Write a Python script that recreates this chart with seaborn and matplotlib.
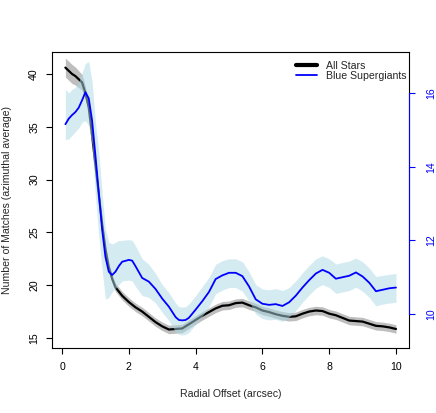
import matplotlib
matplotlib.use('Agg')  # Non-interactive backend
import matplotlib.pyplot as plt
import seaborn as sns
import numpy as np
from matplotlib.lines import Line2D

# All stars (left axis): mean and half-width of the grey band
all_x = [0.1, 0.2, 0.3, 0.4, 0.5, 0.6, 0.7, 0.8, 0.9, 1.0, 1.1, 1.2, 1.3, 1.4, 1.5,
         1.6, 1.8, 2.0, 2.2, 2.4, 2.6, 2.8, 3.0, 3.2, 3.4, 3.6, 3.8, 4.0, 4.2, 4.4,
         4.6, 4.8, 5.0, 5.2, 5.4, 5.6, 5.8, 6.0, 6.2, 6.4, 6.6, 6.8, 7.0, 7.2, 7.4,
         7.6, 7.8, 8.0, 8.2, 8.4, 8.6, 8.8, 9.0, 9.2, 9.4, 9.6, 9.8, 10.0]
all_mean = [40.6, 40.3, 40.0, 39.8, 39.5, 39.2, 38.2, 36.8, 34.2, 31.4, 28.6, 25.8, 23.4, 21.7, 20.6,
            19.8, 19.0, 18.4, 17.9, 17.5, 17.0, 16.5, 16.1, 15.8, 15.85, 15.9, 16.3, 16.7, 17.1, 17.45,
            17.8, 18.05, 18.1, 18.3, 18.35, 18.1, 17.9, 17.6, 17.45, 17.25, 17.1, 17.0, 17.05, 17.3, 17.5,
            17.6, 17.55, 17.3, 17.15, 16.9, 16.65, 16.6, 16.55, 16.35, 16.15, 16.1, 16.0, 15.85]
all_err = [0.9, 0.9, 0.9, 0.85, 0.8, 0.75, 0.6, 0.5, 0.45, 0.45, 0.45, 0.45, 0.45, 0.4, 0.4,
           0.4, 0.4, 0.4, 0.4, 0.4, 0.4, 0.4, 0.4, 0.4, 0.4, 0.4, 0.4, 0.4, 0.4, 0.4,
           0.4, 0.4, 0.4, 0.4, 0.4, 0.4, 0.4, 0.4, 0.4, 0.4, 0.4, 0.4, 0.4, 0.4, 0.4,
           0.4, 0.4, 0.4, 0.4, 0.4, 0.4, 0.4, 0.4, 0.4, 0.4, 0.4, 0.4, 0.4]

# Blue supergiants (right axis): mean and band limits
bsg_x = [0.1, 0.2, 0.3, 0.4, 0.5, 0.6, 0.7, 0.8, 0.9, 1.0, 1.1, 1.2, 1.3, 1.4, 1.5,
         1.6, 1.7, 1.8, 2.0, 2.1, 2.2, 2.4, 2.6, 2.8, 3.0, 3.2, 3.4, 3.5, 3.6, 3.7,
         3.8, 4.0, 4.2, 4.4, 4.6, 4.8, 5.0, 5.2, 5.4, 5.6, 5.8, 6.0, 6.2, 6.4, 6.6,
         6.8, 7.0, 7.2, 7.4, 7.6, 7.8, 8.0, 8.2, 8.4, 8.6, 8.8, 9.0, 9.2, 9.4, 9.6,
         9.8, 10.0]
bsg_mean = [15.15, 15.3, 15.4, 15.48, 15.6, 15.8, 16.02, 15.85, 15.25, 14.3, 13.3, 12.3, 11.55, 11.15, 11.06,
            11.15, 11.3, 11.42, 11.47, 11.45, 11.3, 10.98, 10.88, 10.68, 10.42, 10.2, 9.92, 9.84, 9.83, 9.84,
            9.9, 10.12, 10.35, 10.6, 10.95, 11.05, 11.12, 11.12, 11.03, 10.75, 10.4, 10.28, 10.25, 10.27, 10.22,
            10.32, 10.5, 10.72, 10.92, 11.1, 11.2, 11.12, 10.96, 11.0, 11.04, 11.13, 11.02, 10.85, 10.62, 10.66,
            10.7, 10.72]
bsg_lo = [14.73, 14.75, 14.85, 14.95, 15.05, 15.2, 15.25, 15.1, 14.6, 13.2, 12.1, 11.2, 10.4, 10.45, 10.6,
          10.7, 10.8, 10.9, 10.92, 10.9, 10.75, 10.5, 10.45, 10.3, 10.05, 9.82, 9.52, 9.45, 9.43, 9.45,
          9.5, 9.72, 9.95, 10.2, 10.55, 10.65, 10.72, 10.72, 10.62, 10.35, 10.0, 9.88, 9.84, 9.86, 9.8,
          9.92, 10.1, 10.32, 10.52, 10.7, 10.8, 10.72, 10.56, 10.6, 10.64, 10.73, 10.62, 10.45, 10.22, 10.27,
          10.3, 10.32]
bsg_hi = [16.1, 16.0, 16.1, 16.15, 16.3, 16.55, 16.8, 16.85, 16.3, 15.2, 14.4, 13.3, 12.3, 11.95, 11.9,
          11.95, 12.0, 12.0, 12.02, 12.0, 11.85, 11.5, 11.35, 11.1, 10.8, 10.58, 10.3, 10.2, 10.19, 10.2,
          10.28, 10.5, 10.75, 11.0, 11.35, 11.45, 11.5, 11.5, 11.42, 11.15, 10.8, 10.68, 10.66, 10.69, 10.64,
          10.72, 10.9, 11.12, 11.32, 11.5, 11.58, 11.5, 11.36, 11.4, 11.44, 11.52, 11.42, 11.25, 11.02, 11.05,
          11.08, 11.1]

x_ticks = [0, 2, 4, 6, 8, 10]
left_ticks = [15, 20, 25, 30, 35, 40]
right_ticks = [10, 12, 14, 16]

sns.set_theme(style="ticks")
plt.rcParams['font.family'] = ['Liberation Sans', 'DejaVu Sans']
fs = 7.6

fig = plt.figure(figsize=(4.36, 4.13), dpi=100)
ax1 = fig.add_axes([0.1193, 0.1574, 0.8188, 0.7167])
ax2 = ax1.twinx()

# left axis: all stars
lo = np.array(all_mean) - np.array(all_err)
hi = np.array(all_mean) + np.array(all_err)
ax1.fill_between(all_x, lo, hi, color='#bebebe', lw=0)
sns.lineplot(x=all_x, y=all_mean, ax=ax1, color='black', lw=1.6, estimator=None)

# right axis: blue supergiants
ax2.fill_between(bsg_x, bsg_lo, bsg_hi, color='lightblue', alpha=0.5, lw=0)
sns.lineplot(x=bsg_x, y=bsg_mean, ax=ax2, color='blue', lw=1.3, estimator=None)

ax1.set_xlim(-0.3, 10.39)
ax1.set_ylim(14.05, 42.08)
ax2.set_ylim(9.08, 17.11)

ax1.set_xticks(x_ticks)
ax1.set_yticks(left_ticks)
ax2.set_yticks(right_ticks)

for sp in ax1.spines.values():
    sp.set_color('black')
    sp.set_linewidth(0.8)
for name in ['left', 'top', 'bottom']:
    ax2.spines[name].set_visible(False)
ax2.spines['right'].set_bounds(10, 16)
ax2.spines['right'].set_color('blue')
ax2.spines['right'].set_linewidth(0.8)

ax1.tick_params(axis='both', labelsize=fs, length=4.3, width=0.8, color='black', labelcolor='black')
ax1.tick_params(axis='x', pad=6)
ax1.tick_params(axis='y', pad=5, labelrotation=90)
ax2.tick_params(axis='y', labelsize=fs, length=4.3, width=0.8, color='blue', labelcolor='blue',
                pad=8, labelrotation=90)
for lab in ax1.get_yticklabels() + ax2.get_yticklabels():
    lab.set_va('center')

ax1.set_xlabel('Radial Offset (arcsec)', fontsize=fs, labelpad=12)
ax1.set_ylabel('Number of Matches (azimuthal average)', fontsize=fs, labelpad=12)
ax2.set_ylabel('')

handles = [Line2D([], [], color='black', lw=3),
           Line2D([], [], color='blue', lw=1.3)]
ax2.legend(handles, ['All Stars', 'Blue Supergiants'], loc='upper left',
           bbox_to_anchor=(0.683, 0.971), frameon=False, fontsize=fs,
           handlelength=2.0, handletextpad=0.9, labelspacing=0.0, borderpad=0,
           borderaxespad=0)

fig.savefig('out.png', dpi=100)
plt.close(fig)
